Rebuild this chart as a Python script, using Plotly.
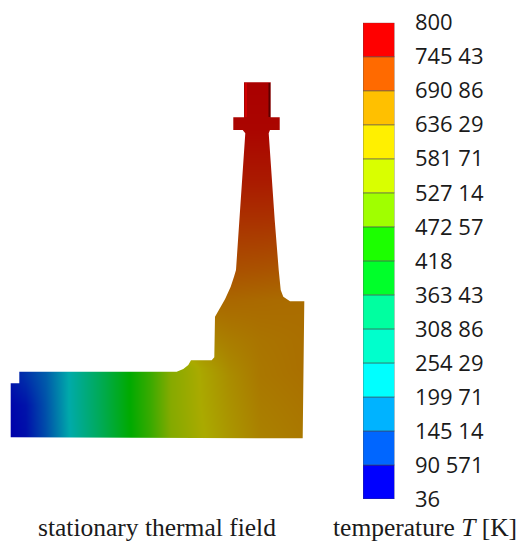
import plotly.graph_objects as go

# Colour legend
band_edges = [36, 90.57, 145.14, 199.71, 254.29, 308.86, 363.43, 418, 472.57,
              527.14, 581.71, 636.29, 690.86, 745.43, 800]
band_colors = ["#0000ff", "#0066ff", "#00b3ff", "#00ffff", "#00ffcc", "#00ffa0", "#00ff2a",
               "#1cff00", "#a0ff00", "#d9ff00", "#fff000", "#ffc000", "#ff6a00", "#ff0000"]
tick_labels = ["36", "90 571", "145 14", "199 71", "254 29", "308 86", "363 43", "418",
               "472 57", "527 14", "581 71", "636 29", "690 86", "745 43", "800"]

# Temperature field (columns field_x, rows field_y)
field_x = [10, 25, 45, 68, 100, 128, 150, 170, 200, 230, 260, 305]
field_y = [80, 130, 180, 220, 270, 300, 340, 368, 375, 405, 440]
field_t = [
    [800, 800, 800, 800, 800, 800, 800, 800, 800, 800, 800, 800],
    [800, 800, 800, 800, 800, 800, 800, 800, 795, 795, 795, 795],
    [780, 780, 780, 780, 780, 780, 780, 780, 778, 775, 775, 775],
    [755, 755, 755, 755, 755, 755, 755, 755, 752, 752, 752, 750],
    [725, 725, 725, 725, 725, 725, 725, 725, 722, 722, 720, 715],
    [700, 700, 700, 700, 700, 700, 700, 700, 700, 700, 698, 695],
    [670, 670, 670, 670, 670, 670, 670, 670, 668, 680, 688, 693],
    [60, 85, 125, 200, 310, 415, 495, 590, 640, 668, 685, 693],
    [60, 85, 125, 200, 310, 415, 495, 590, 638, 665, 685, 692],
    [42, 55, 115, 200, 310, 415, 495, 590, 636, 660, 680, 688],
    [36, 50, 110, 195, 305, 410, 490, 585, 632, 655, 675, 684],
]
field_scale = [
    [0.0, "rgb(0,0,170)"],
    [0.2147, "rgb(0,170,170)"],
    [0.5, "rgb(0,170,0)"],
    [0.7853, "rgb(170,170,0)"],
    [1.0, "rgb(170,0,0)"],
]

# Outline of the section, in picture units
part_x = [244, 270.7, 270.7, 279.7, 279.7, 270, 268.7, 274.7, 278.7, 280.7, 283.3, 290, 304.3,
          302.7, 10.7, 10.7, 19.3, 19.3, 176.7, 183.3, 188.3, 191, 211.7, 214.3, 215, 225,
          230.7, 234, 236, 239.7, 245.3, 242.7, 233.3, 233.3, 244, 244]
part_y = [82.3, 82.3, 117.3, 117.3, 130, 130, 133.3, 220, 270, 290, 296.7, 301.3, 301.3,
          438.3, 437.3, 383.3, 383.3, 371.7, 371.7, 369, 365, 360.3, 360.3, 357.3, 316.7, 299.3,
          286.7, 276.7, 270, 220, 133.3, 130, 130, 117.3, 117.3, 82.3]
frame_x = [0, 524, 524, 0, 0]
frame_y = [0, 0, 550, 550, 0]
edge_light_x = [246, 246]
edge_light_y = [83, 117]
edge_dark_x = [269.5, 269.5]
edge_dark_y = [83, 117]

fig = go.Figure()
fig.add_trace(go.Heatmap(x=field_x, y=field_y, z=field_t, zmin=36, zmax=800, zsmooth="best",
                         colorscale=field_scale, showscale=False, hoverinfo="skip"))
fig.add_trace(go.Scatter(x=edge_light_x, y=edge_light_y, mode="lines",
                         line=dict(color="#d00000", width=2), hoverinfo="skip"))
fig.add_trace(go.Scatter(x=edge_dark_x, y=edge_dark_y, mode="lines",
                         line=dict(color="#5a0000", width=2), hoverinfo="skip"))
# White surround, leaving the section visible (outline runs against the frame)
fig.add_trace(go.Scatter(x=frame_x + part_x[::-1] + [frame_x[0]],
                         y=frame_y + part_y[::-1] + [frame_y[0]],
                         mode="lines", fill="toself", fillcolor="white",
                         line=dict(width=0, color="white"), hoverinfo="skip"))

fig.add_trace(go.Bar(
    x=[1] * len(band_colors),
    y=[band_edges[i + 1] - band_edges[i] for i in range(len(band_colors))],
    base=band_edges[:-1],
    width=1,
    marker=dict(color=band_colors, line=dict(color="rgba(70,70,70,0.55)", width=1)),
    xaxis="x2", yaxis="y2", hoverinfo="skip",
))

W, H = 524, 550
fig.update_layout(
    width=W, height=H, margin=dict(l=0, r=0, t=0, b=0, pad=0, autoexpand=False),
    autosize=False,
    paper_bgcolor="white", plot_bgcolor="rgba(0,0,0,0)", showlegend=False,
    xaxis=dict(range=[0, W], domain=[0, 1], visible=False, automargin=False),
    yaxis=dict(range=[H, 0], domain=[0, 1], visible=False, automargin=False),
    xaxis2=dict(range=[0.5, 1.5], domain=[363 / W, 394.5 / W], anchor="y2", visible=False,
                automargin=False),
    yaxis2=dict(range=[36, 800], domain=[(H - 499) / H, (H - 22.7) / H], anchor="x2", side="right",
                tickmode="array", tickvals=band_edges, ticktext=tick_labels,
                ticks="outside", ticklen=15, tickcolor="rgba(255,255,255,0)",
                showgrid=False, zeroline=False, showline=False, automargin=False,
                tickfont=dict(family="Open Sans", size=22, color="#1a1a1a")),
    annotations=[
        dict(text="stationary thermal field", x=36, y=527, xref="x", yref="y", xanchor="left",
             yanchor="middle", showarrow=False,
             font=dict(family="Liberation Serif", size=25.5, color="#1a1a1a")),
        dict(text="temperature <i>T</i> [K]", x=331, y=527, xref="x", yref="y", xanchor="left",
             yanchor="middle", showarrow=False,
             font=dict(family="Liberation Serif", size=25.5, color="#1a1a1a")),
    ],
)
fig.write_html("out.html", config={"displayModeBar": False},
               post_script="document.body.style.margin='0';document.body.style.overflow='hidden';")
